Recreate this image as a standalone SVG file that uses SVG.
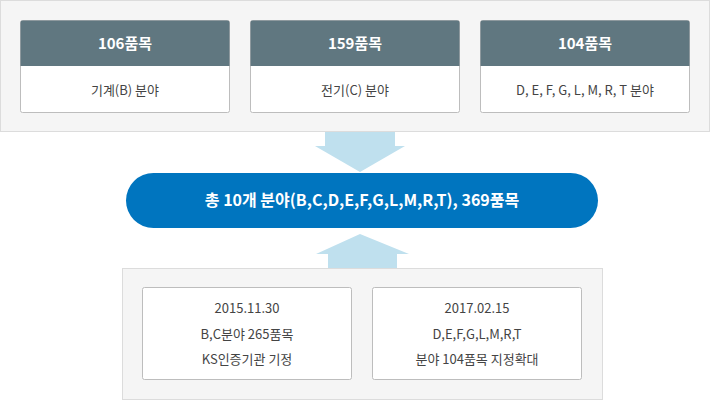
<svg xmlns="http://www.w3.org/2000/svg" width="710" height="401" viewBox="0 0 710 401">
<style>
.panel{fill:#f5f5f5;stroke:#dcdcdc;stroke-width:1}
.box{fill:#fff;stroke:#bdbdbd;stroke-width:1}
.hd{fill:#607780}
.t{font-family:"Noto Sans CJK KR","Noto Sans",sans-serif;text-anchor:middle}
.h{font-size:15px;font-weight:bold;fill:#fff}
.s{font-size:13px;fill:#444}
.arr{fill:#bfe0ee}
</style>
<rect class="panel" x="0.5" y="0.5" width="709" height="131"/>
<rect class="panel" x="122.5" y="268.5" width="480" height="131"/>
<g id="connectors">
<polygon class="arr" points="325,132 395,132 395,146 405,146 360,172 315,146 325,146"/>
<polygon class="arr" points="360,234 409,254 397,254 397,268 328,268 328,254 316,254"/>
</g>
<g id="n1"><rect class="box" x="20.5" y="20.5" width="209" height="92" rx="2"/><path class="hd" d="M22.5 20.5h205a2 2 0 0 1 2 2v43.5h-209v-43.5a2 2 0 0 1 2-2z"/>
<text class="t h" x="125" y="49">106품목</text><text class="t s" x="125" y="95">기계(B) 분야</text></g>
<g id="n2"><rect class="box" x="250.5" y="20.5" width="209" height="92" rx="2"/><path class="hd" d="M252.5 20.5h205a2 2 0 0 1 2 2v43.5h-209v-43.5a2 2 0 0 1 2-2z"/>
<text class="t h" x="355" y="49">159품목</text><text class="t s" x="355" y="95">전기(C) 분야</text></g>
<g id="n3"><rect class="box" x="480.5" y="20.5" width="209" height="92" rx="2"/><path class="hd" d="M482.5 20.5h205a2 2 0 0 1 2 2v43.5h-209v-43.5a2 2 0 0 1 2-2z"/>
<text class="t h" x="585" y="49">104품목</text><text class="t s" x="585" y="95">D, E, F, G, L, M, R, T 분야</text></g>
<g id="total"><rect x="126" y="173" width="472" height="55" rx="27.5" fill="#0075bf"/>
<text class="t" x="362" y="206" font-size="16" font-weight="bold" fill="#fff">총 10개 분야(B,C,D,E,F,G,L,M,R,T), 369품목</text></g>
<g id="n4"><rect class="box" x="142.5" y="287.5" width="209" height="92" rx="2"/>
<text class="t s" x="247" y="313">2015.11.30</text><text class="t s" x="247" y="339">B,C분야 265품목</text><text class="t s" x="247" y="364">KS인증기관 기정</text></g>
<g id="n5"><rect class="box" x="372.5" y="287.5" width="209" height="92" rx="2"/>
<text class="t s" x="477" y="313">2017.02.15</text><text class="t s" x="477" y="339">D,E,F,G,L,M,R,T</text><text class="t s" x="477" y="364">분야 104품목 지정확대</text></g>
</svg>
